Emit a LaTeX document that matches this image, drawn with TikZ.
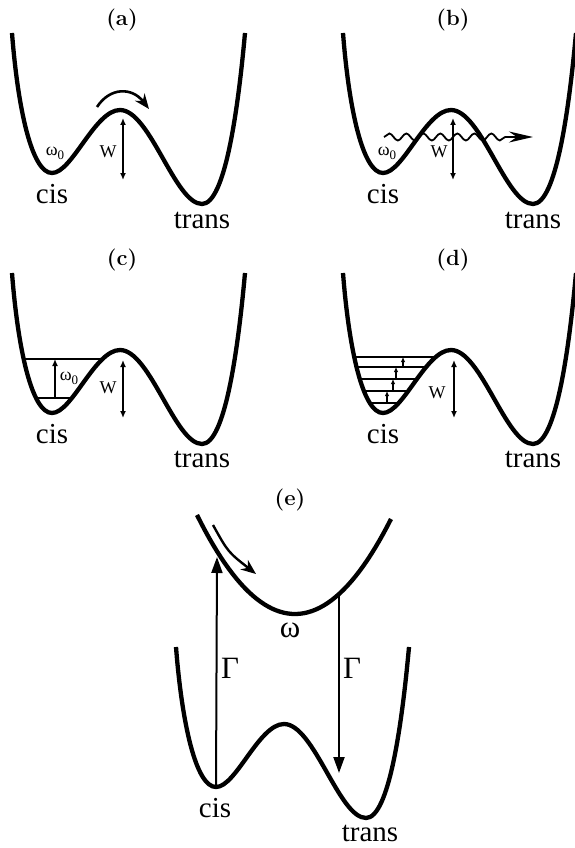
\documentclass[tikz,border=0pt]{standalone}
\usepackage{fontspec}
\newfontfamily\tmsfont{Liberation Serif}
\usetikzlibrary{arrows.meta, decorations.pathmorphing}
\newcommand{\omz}{ω\raisebox{-4pt}{\fontsize{13}{13}\selectfont 0}}

\begin{document}
\begin{tikzpicture}[x=1pt, y=-1pt,
    well/.style={line width=4.3pt},
    wellpath/.style={insert path={(12,33) .. controls (18,110) and (32,173) .. (52,173)
        .. controls (72,173) and (95,110) .. (120,110)
        .. controls (150,110) and (175,204) .. (202,204)
        .. controls (225,204) and (238,110) .. (245,33)}},
    lbl/.style={font=\fontsize{22}{24}\selectfont\bfseries},
    site/.style={font=\tmsfont\fontsize{29}{30}\selectfont, inner sep=0pt},
    small/.style={font=\tmsfont\fontsize{18}{20}\selectfont, inner sep=0pt},
    big/.style={font=\tmsfont\fontsize{31}{32}\selectfont, inner sep=0pt},
    barrier/.style={line width=1.8pt, {Latex[length=7pt,width=6pt]}-{Latex[length=7pt,width=6pt]}},
    level/.style={line width=1.7pt},
    hop/.style={line width=1.4pt, -{Latex[length=5pt,width=4.5pt]}},
    gam/.style={line width=2pt, -{Triangle[length=16pt,width=11pt]}},
  ]
  \useasboundingbox (0,0) rectangle (574,848);

  % ---- (a) thermal hopping over the barrier ----
  \begin{scope}
    \node[lbl] (labA) at (122,20) {(a)};
    \draw[well, wellpath];
    \coordinate (topA) at (123,118);
    \coordinate (botA) at (123,180);
    \draw[barrier] (topA) -- (botA);
    \node[small] (wA) at (108,152) {W};
    \node[small] (omA) at (55,153) {\omz};
    \node[site] (cisA) at (52,194) {cis};
    \node[site] (transA) at (202,220) {trans};
    \coordinate (jumpS) at (97,107);
    \coordinate (jumpE) at (149,109);
    \draw[line width=2.6pt, -{Stealth[length=15pt,width=12pt]}]
    (jumpS) .. controls (110,87) and (132,87) .. (jumpE);
  \end{scope}

  % ---- (b) tunnelling through the barrier ----
  \begin{scope}[shift={(331,0)}]
    \node[lbl] (labB) at (122,20) {(b)};
    \draw[well, wellpath];
    \coordinate (topB) at (122,118);
    \coordinate (botB) at (122,180);
    \draw[barrier] (topB) -- (botB);
    \node[small] (wB) at (108,152) {W};
    \node[small] (omB) at (56,153) {\omz};
    \node[site] (cisB) at (52,194) {cis};
    \node[site] (transB) at (202,220) {trans};
    \coordinate (waveS) at (53,137);
    \coordinate (waveE) at (202,137);
    \draw[line width=1.8pt, decorate,
      decoration={snake, amplitude=3.5pt, segment length=17pt, post length=26pt},
      -{Stealth[length=24pt,width=11pt]}] (waveS) -- (waveE);
  \end{scope}

  % ---- (c) one quantum step ----
  \begin{scope}[shift={(0,240)}]
    \node[lbl] (labC) at (122,20) {(c)};
    \begin{scope}
      \clip[wellpath] -- cycle;
      \foreach \lev in {119,158}
      \draw[level] (0,\lev) -- (120,\lev);
    \end{scope}
    \draw[well, wellpath];
    \coordinate (lowC) at (55,158);
    \coordinate (highC) at (55,119);
    \draw[line width=1.8pt, -{Latex[length=7pt,width=6pt]}] (lowC) -- (highC);
    \node[small] (omC) at (69,138) {\omz};
    \coordinate (topC) at (123,120);
    \coordinate (botC) at (123,178);
    \draw[barrier] (topC) -- (botC);
    \node[small] (wC) at (108,148) {W};
    \node[site] (cisC) at (52,194) {cis};
    \node[site] (transC) at (202,219) {trans};
  \end{scope}

  % ---- (d) ladder of levels ----
  \begin{scope}[shift={(331,240)}]
    \node[lbl] (labD) at (122,20) {(d)};
    \begin{scope}
      \clip[wellpath] -- cycle;
      \foreach \lev in {117,127,139,151,163}
      \draw[level] (0,\lev) -- (120,\lev);
    \end{scope}
    \draw[well, wellpath];
    \foreach \x/\lo/\hi in {56/163/151, 62/151/139, 65/139/127, 72/127/117}
    \draw[hop] (\x,\lo) -- (\x,\hi);
    \coordinate (topD) at (123,120);
    \coordinate (botD) at (123,178);
    \draw[barrier] (topD) -- (botD);
    \node[small] (wD) at (106,153) {W};
    \node[site] (cisD) at (52,194) {cis};
    \node[site] (transD) at (202,219) {trans};
  \end{scope}

  % ---- (e) via the excited state ----
  \node[lbl] (labE) at (290,500) {(e)};
  \begin{scope}[shift={(164,614)}]
    \draw[well, wellpath];
    \coordinate (cisE) at (52,173);
    \node[site] (cisLab) at (51,194) {cis};
    \node[site] (transLab) at (206,219) {trans};
  \end{scope}
  \draw[well] plot[domain=197:391, samples=50] (\x, {614-(\x-295)^2/97});
  \node[big] (omE) at (290,630) {ω};
  \coordinate (upE) at (217,557);
  \draw[gam] (cisE) -- (upE);
  \coordinate (dnS) at (339,594);
  \coordinate (dnE) at (339,773);
  \draw[gam] (dnS) -- (dnE);
  \node[big] (gamL) at (230,668) {Γ};
  \node[big] (gamR) at (352,668) {Γ};
  \coordinate (slideS) at (213,525);
  \coordinate (slideE) at (256,574);
  \draw[line width=2.4pt, -{Stealth[length=15pt,width=12pt]}]
  (slideS) .. controls (228,552) .. (slideE);

\end{tikzpicture}
\end{document}
